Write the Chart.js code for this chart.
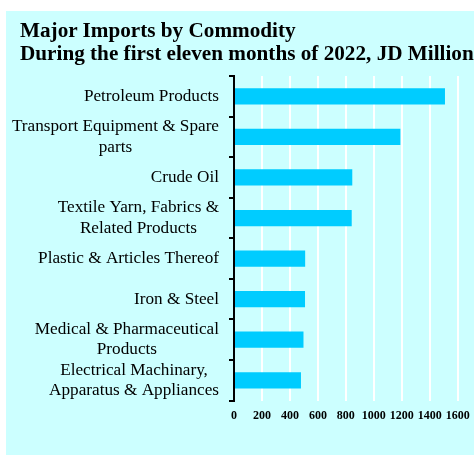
<!DOCTYPE html>
<html>
<head>
<meta charset="utf-8">
<script src="https://cdn.jsdelivr.net/npm/chart.js@4"></script>
<style>
    body { margin: 0; width: 474px; height: 455px; overflow: hidden; background: #fff; position: relative; }
    #panel { position: absolute; left: 6px; top: 11px; width: 468px; height: 444px; background: #ccffff; overflow: hidden; }
    #title { position: absolute; left: 14px; top: 8px; white-space: nowrap; font: bold 21.2px "Liberation Serif", "Times New Roman", serif; line-height: 23px; color: #000; }
    #chart-wrap { position: absolute; left: 0; top: 0; width: 468px; height: 444px; }
</style>
</head>
<body>
<div id="panel">
    <div id="chart-wrap"><canvas id="bar-chart"></canvas></div>
    <div id="title">Major Imports by Commodity<br>During the first eleven months of 2022, JD Million</div>
</div>
<script>
const commodities = [
    ['Petroleum Products'],
    ['Transport Equipment & Spare', 'parts'],
    ['Crude Oil'],
    ['Textile Yarn, Fabrics &', 'Related Products'],
    ['Plastic & Articles Thereof'],
    ['Iron & Steel'],
    ['Medical & Pharmaceutical', 'Products'],
    ['Electrical Machinary,', 'Apparatus & Appliances']
];
const importValues = [1509, 1190, 846, 842, 509, 508, 497, 479];
const xTicks = [0, 200, 400, 600, 800, 1000, 1200, 1400, 1600];

const labelFont = '17.2px "Liberation Serif", serif';

// y labels: block right-aligned to the axis, lines centred within the block
const centeredLabels = {
    id: 'centeredLabels',
    afterDraw(chart) {
        const yScale = chart.scales.y;
        const c = chart.ctx;
        const right = yScale.right - 15;
        const lineHeight = 20.4;
        c.save();
        c.font = labelFont;
        c.fillStyle = '#000';
        c.textAlign = 'center';
        c.textBaseline = 'middle';
        chart.data.labels.forEach(function(lines, i) {
            const y = yScale.getPixelForValue(i);
            const w = Math.max(...lines.map(l => c.measureText(l).width));
            const cx = right - w / 2;
            lines.forEach(function(line, j) {
                c.fillText(line, cx, y + (j - (lines.length - 1) / 2) * lineHeight);
            });
        });
        c.restore();
    }
};

const ctx = document.getElementById('bar-chart').getContext('2d');

new Chart(ctx, {
    type: 'bar',
    data: {
        labels: commodities,
        datasets: [{
            data: importValues,
            backgroundColor: '#00ccff',
            barPercentage: 0.4,
            categoryPercentage: 1
        }]
    },
    options: {
        indexAxis: 'y',
        responsive: true,
        maintainAspectRatio: false,
        animation: false,
        layout: {
            padding: { top: 65, right: 16.3, bottom: 24, left: 0 }
        },
        plugins: {
            legend: { display: false },
            tooltip: { enabled: false }
        },
        scales: {
            x: {
                min: 0,
                max: 1600,
                afterBuildTicks: function(scale) {
                    scale.ticks = xTicks.map(v => ({ value: v }));
                },
                afterFit: function(scale) {
                    // let the layout padding decide the right edge
                    scale.paddingRight = 10;
                },
                grid: {
                    color: '#ffffff',
                    lineWidth: 2,
                    drawTicks: false
                },
                border: { display: false },
                ticks: {
                    color: '#000',
                    padding: 8,
                    autoSkip: false,
                    maxRotation: 0,
                    callback: function(value) { return String(value); },
                    font: { family: '"Liberation Serif", serif', size: 12, weight: 'bold' }
                }
            },
            y: {
                afterFit: function(scale) {
                    scale.width = 228;
                },
                grid: {
                    drawOnChartArea: false,
                    drawTicks: true,
                    tickLength: 5,
                    color: '#000',
                    lineWidth: 2
                },
                border: { display: true, color: '#000', width: 2 },
                ticks: {
                    display: false,
                    autoSkip: false
                }
            }
        }
    },
    plugins: [centeredLabels]
});
</script>
</body>
</html>
